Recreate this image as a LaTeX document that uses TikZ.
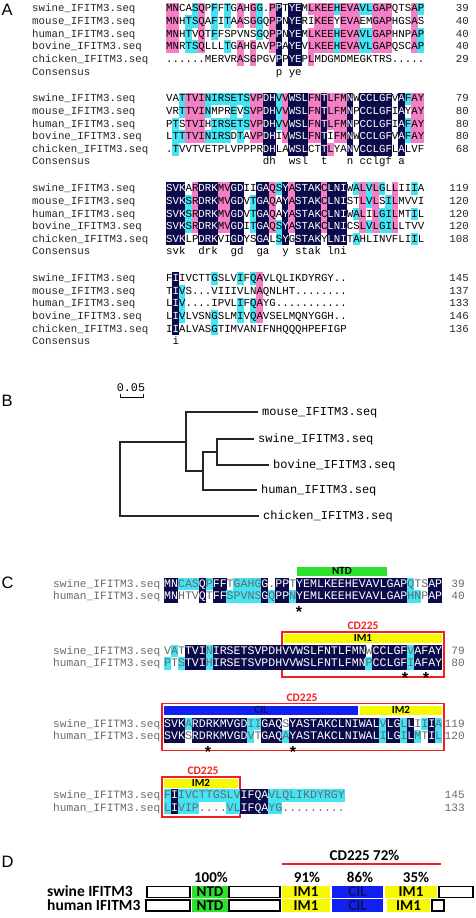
\documentclass[tikz,border=0pt]{standalone}
\usepackage{fontspec}
\setmainfont{Liberation Sans}
\newfontfamily\monof{Liberation Mono}
\newfontfamily\calib{Carlito}
\definecolor{alnnavy}{HTML}{0B0B4B}
\definecolor{alnpink}{HTML}{F47FC4}
\definecolor{alncyan}{HTML}{44E4F4}
\definecolor{cgrey}{HTML}{6A6A6A}
\definecolor{ntdgreen}{HTML}{2EE02E}
\definecolor{imyellow}{HTML}{F8F800}
\definecolor{cilblue}{HTML}{1020F0}
\definecolor{cdred}{HTML}{F02020}
\definecolor{cilnavy}{HTML}{101060}

\def\cx{166}\def\cw{6.45}\def\ctop{9.4}\def\cbot{3.2}\def\alnp{12.6}
\newcommand\cellbox[3]{\fill[#1] ({\cx+(#2-1)*\cw-0.1},{#3-\ctop}) rectangle ({\cx+(#2)*\cw+0.1},{#3+\cbot});}
\newcommand\seqtext[2]{\node[seqA] at (\cx,{#1}) {#2};}
\newcommand\pairtext[2]{\node[seqC] at (\cx,{#1}) {#2};}

\ExplSyntaxOn
\tl_new:N \l__aln_ra_tl
\tl_new:N \l__aln_rb_tl
\tl_new:N \l__aln_rc_tl
\tl_new:N \l__aln_rd_tl
\tl_new:N \l__aln_re_tl
\tl_new:N \l__aln_ca_tl
\tl_new:N \l__aln_cb_tl
\tl_new:N \l__aln_cc_tl
\tl_new:N \l__aln_cd_tl
\tl_new:N \l__aln_ce_tl
\tl_new:N \l__aln_ta_tl
\tl_new:N \l__aln_tb_tl
\tl_new:N \l__aln_tc_tl
\tl_new:N \l__aln_td_tl
\tl_new:N \l__aln_te_tl
\tl_new:N \l__aln_cons_tl
\int_new:N \l__aln_n_int
\cs_new_protected:Npn \__aln_cell:nNNn #1#2#3#4
  {
    \int_zero:N \l__aln_n_int
    \tl_if_eq:NNT #2 \l__aln_ca_tl { \int_incr:N \l__aln_n_int }
    \tl_if_eq:NNT #2 \l__aln_cb_tl { \int_incr:N \l__aln_n_int }
    \tl_if_eq:NNT #2 \l__aln_cc_tl { \int_incr:N \l__aln_n_int }
    \tl_if_eq:NNT #2 \l__aln_cd_tl { \int_incr:N \l__aln_n_int }
    \tl_if_eq:NNT #2 \l__aln_ce_tl { \int_incr:N \l__aln_n_int }
    \tl_if_eq:NnT #2 { . } { \int_zero:N \l__aln_n_int }
    \int_case:nnF { \l__aln_n_int }
      {
        { 5 } { \cellbox{alnnavy}{#1}{#4} \tl_put_right:Nx #3 { \exp_not:N \textcolor{white}{#2} } }
        { 4 } { \cellbox{alnpink}{#1}{#4} \tl_put_right:Nx #3 { #2 } }
        { 3 } { \cellbox{alncyan}{#1}{#4} \tl_put_right:Nx #3 { #2 } }
      }
      { \tl_put_right:Nx #3 { #2 } }
  }
\NewDocumentCommand \alnblock { m m m m m m }
  {
    \tl_set:Nn \l__aln_ra_tl {#2}
    \tl_set:Nn \l__aln_rb_tl {#3}
    \tl_set:Nn \l__aln_rc_tl {#4}
    \tl_set:Nn \l__aln_rd_tl {#5}
    \tl_set:Nn \l__aln_re_tl {#6}
    \tl_clear:N \l__aln_ta_tl
    \tl_clear:N \l__aln_tb_tl
    \tl_clear:N \l__aln_tc_tl
    \tl_clear:N \l__aln_td_tl
    \tl_clear:N \l__aln_te_tl
    \tl_clear:N \l__aln_cons_tl
    \int_step_inline:nn { \tl_count:N \l__aln_ra_tl }
      {
        \tl_set:Nx \l__aln_ca_tl { \tl_item:Nn \l__aln_ra_tl {##1} }
        \tl_set:Nx \l__aln_cb_tl { \tl_item:Nn \l__aln_rb_tl {##1} }
        \tl_set:Nx \l__aln_cc_tl { \tl_item:Nn \l__aln_rc_tl {##1} }
        \tl_set:Nx \l__aln_cd_tl { \tl_item:Nn \l__aln_rd_tl {##1} }
        \tl_set:Nx \l__aln_ce_tl { \tl_item:Nn \l__aln_re_tl {##1} }
        \__aln_cell:nNNn {##1} \l__aln_ca_tl \l__aln_ta_tl {#1}
        \int_compare:nNnTF { \l__aln_n_int } = { 5 }
          { \tl_put_right:Nx \l__aln_cons_tl { \exp_not:N \lowercase { \l__aln_ca_tl } } }
          { \tl_put_right:Nn \l__aln_cons_tl { \phantom{x} } }
        \__aln_cell:nNNn {##1} \l__aln_cb_tl \l__aln_tb_tl {#1+\alnp}
        \__aln_cell:nNNn {##1} \l__aln_cc_tl \l__aln_tc_tl {#1+2*\alnp}
        \__aln_cell:nNNn {##1} \l__aln_cd_tl \l__aln_td_tl {#1+3*\alnp}
        \__aln_cell:nNNn {##1} \l__aln_ce_tl \l__aln_te_tl {#1+4*\alnp}
      }
    \seqtext{#1}{\l__aln_ta_tl}
    \seqtext{#1+\alnp}{\l__aln_tb_tl}
    \seqtext{#1+2*\alnp}{\l__aln_tc_tl}
    \seqtext{#1+3*\alnp}{\l__aln_td_tl}
    \seqtext{#1+4*\alnp}{\l__aln_te_tl}
    \seqtext{#1+5*\alnp}{\l__aln_cons_tl}
  }
\NewDocumentCommand \pairrow { m m m }
  {
    \tl_set:Nn \l__aln_ra_tl {#2}
    \tl_set:Nn \l__aln_rb_tl {#3}
    \tl_clear:N \l__aln_ta_tl
    \int_step_inline:nn { \tl_count:N \l__aln_ra_tl }
      {
        \tl_set:Nx \l__aln_ca_tl { \tl_item:Nn \l__aln_ra_tl {##1} }
        \tl_set:Nx \l__aln_cb_tl { \tl_item:Nn \l__aln_rb_tl {##1} }
        \tl_if_eq:NnTF \l__aln_cb_tl { n }
          {
            \cellbox{alnnavy}{##1}{#1}
            \tl_put_right:Nx \l__aln_ta_tl { \exp_not:N \textcolor{white}{\l__aln_ca_tl} }
          }
          {
            \tl_if_eq:NnT \l__aln_cb_tl { c } { \cellbox{alncyan}{##1}{#1} }
            \tl_put_right:Nx \l__aln_ta_tl { \l__aln_ca_tl }
          }
      }
    \pairtext{#1}{\l__aln_ta_tl}
  }
\ExplSyntaxOff

\newcommand\alnrow[3]{\node[labA] at (32,{#1}) {#2}; \node[numA] at (469,{#1}) {#3};}
\newcommand\pairlab[3]{\node[labC] at (53,{#1}) {#2}; \node[numC] at (465,{#1}) {#3};}
\newcommand\dseg[5]{\node[#1, minimum width={#3-#2}] at ({(#2+#3)/2},#4) {#5};}

\begin{document}
\begin{tikzpicture}[x=1pt,y=-1pt,
  seqA/.style={anchor=base west, inner sep=0pt, font=\monof\fontsize{10.75}{12}\selectfont, text=black},
  labA/.style={anchor=base west, inner sep=0pt, font=\monof\fontsize{10.75}{12}\selectfont, text=black!85},
  numA/.style={anchor=base east, inner sep=0pt, font=\monof\fontsize{10.75}{12}\selectfont, text=black!85},
  seqC/.style={anchor=base west, inner sep=0pt, font=\monof\fontsize{11.58}{13}\selectfont, text=cgrey},
  labC/.style={anchor=base west, inner sep=0pt, font=\monof\fontsize{11.16}{13}\selectfont, text=cgrey},
  numC/.style={anchor=base east, inner sep=0pt, font=\monof\fontsize{11.16}{13}\selectfont, text=cgrey},
  panlab/.style={anchor=base west, inner sep=0pt, font=\fontsize{16.5}{16.5}\selectfont},
  treelab/.style={anchor=west, inner xsep=4pt, inner ysep=0pt, font=\monof\fontsize{12}{12}\selectfont, text height=7pt, text depth=1pt},
  tree/.style={line width=1.1pt, black!85},
  cbar/.style={inner sep=0pt, minimum height=9pt, text height=6.5pt, text depth=0pt, font=\calib\bfseries\fontsize{11}{11}\selectfont},
  cdlab/.style={inner sep=0pt, text=cdred, font=\calib\bfseries\fontsize{11.5}{11.5}\selectfont},
  redbox/.style={draw=cdred, line width=1.5pt, inner sep=0pt},
  ast/.style={anchor=base, inner sep=0pt, font=\bfseries\fontsize{16}{16}\selectfont},
  dwhite/.style={draw=black, line width=1.2pt, fill=white, minimum height=11pt, inner sep=0pt},
  dcol/.style={minimum height=12.5pt, inner sep=0pt, text height=9.5pt, text depth=0pt, font=\calib\bfseries\fontsize{15}{15}\selectfont},
  dtxt/.style={inner sep=0pt, font=\calib\bfseries\fontsize{15}{15}\selectfont},
  drow/.style={anchor=base west, inner sep=0pt, font=\calib\bfseries\fontsize{15.5}{15.5}\selectfont}
]
\useasboundingbox (0,0) rectangle (475,918);

%%%%%%%%%% Panel A
\node[panlab] (labelA) at (1.5,15.5) {A};
\alnblock{12}{MNCASQPFFTGAHGG.PPTYEMLKEEHEVAVLGAPQTSAP}{MNHTSQAFITAASGGQPPNYERIKEEYEVAEMGAPHGSAS}{MNHTVQTFFSPVNSGQPPNYEMLKEEHEVAVLGAPHNPAP}{MNRTSQLLLTGAHGAVPPAYEVLKEEHEVAVLGAPQSCAP}{......MERVRASGPGVPPYEPLMDGMDMEGKTRS.....}
\alnrow{12}{swine\_IFITM3.seq}{39}
\alnrow{24.6}{mouse\_IFITM3.seq}{40}
\alnrow{37.2}{human\_IFITM3.seq}{40}
\alnrow{49.8}{bovine\_IFITM3.seq}{40}
\alnrow{62.4}{chicken\_IFITM3.seq}{29}
\node[labA] at (32,75) {Consensus};

\alnblock{101.9}{VATTVINIRSETSVPDHVVWSLFNTLFMNWCCLGFVAFAY}{VRTTVINMPREVSVPDHVVWSLFNTLFMNPCCLGFIAYAY}{PTSTVIHIRSETSVPDHVVWSLFNTLFMNPCCLGFIAFAY}{LTTTVINIRSDTAVPDHIVWSLFNTIFMNWCCLGFVAFAY}{.TVVTVETPLVPPPRDHLAWSLCTTLYANVCCLGFLALVF}
\alnrow{101.9}{swine\_IFITM3.seq}{79}
\alnrow{114.5}{mouse\_IFITM3.seq}{80}
\alnrow{127.1}{human\_IFITM3.seq}{80}
\alnrow{139.7}{bovine\_IFITM3.seq}{80}
\alnrow{152.3}{chicken\_IFITM3.seq}{68}
\node[labA] at (32,164.9) {Consensus};

\alnblock{191.8}{SVKARDRKMVGDIIGAQSYASTAKCLNIWALVLGLLIIIA}{SVKSRDRKMVGDVTGAQAYASTAKCLNISTLVLSILMVVI}{SVKSRDRKMVGDVTGAQAYASTAKCLNIWALILGILMTIL}{SVKSRDRKMVGDITGAQSYASTAKCLNICSLVLGILLTVV}{SVKLPDRKVIGDYSGALSYGSTAKYLNITAHLINVFLIIL}
\alnrow{191.8}{swine\_IFITM3.seq}{119}
\alnrow{204.4}{mouse\_IFITM3.seq}{120}
\alnrow{217}{human\_IFITM3.seq}{120}
\alnrow{229.6}{bovine\_IFITM3.seq}{120}
\alnrow{242.2}{chicken\_IFITM3.seq}{108}
\node[labA] at (32,254.8) {Consensus};

\alnblock{281.7}{FIIVCTTGSLVIFQAVLQLIKDYRGY..}{TIVS...VIIIVLNAQNLHT........}{LIV....IPVLIFQAYG...........}{LIVLVSNGSLMIVQAVSELMQNYGGH..}{IIALVASGTIMVANIFNHQQQHPEFIGP}
\alnrow{281.7}{swine\_IFITM3.seq}{145}
\alnrow{294.3}{mouse\_IFITM3.seq}{137}
\alnrow{306.9}{human\_IFITM3.seq}{133}
\alnrow{319.5}{bovine\_IFITM3.seq}{146}
\alnrow{332.1}{chicken\_IFITM3.seq}{136}
\node[labA] at (32,344.7) {Consensus};

%%%%%%%%%% Panel B
\node[panlab] (labelB) at (1.5,406) {B};
\node[inner sep=0pt, font=\monof\fontsize{11.7}{12}\selectfont] (scaletxt) at (131,388) {0.05};
\coordinate (sbl) at (120,394);
\coordinate (sbr) at (143,394);
\draw[line width=0.9pt] (sbl) -- ++(0,3) -| (sbr);
\node[treelab] (mouse) at (258,412) {mouse\_IFITM3.seq};
\node[treelab] (swine) at (254,439) {swine\_IFITM3.seq};
\node[treelab] (bovine) at (269,465) {bovine\_IFITM3.seq};
\node[treelab] (human) at (257,490) {human\_IFITM3.seq};
\node[treelab] (chicken) at (259,516) {chicken\_IFITM3.seq};
\coordinate (nr) at (120,479);
\coordinate (nX) at (186,442);
\coordinate (nY) at (203,471);
\coordinate (nSB) at (217,452);
\draw[tree] (nX) -| (nr) |- (chicken.west);
\draw[tree] (mouse.west) -| (nX) |- (nY);
\draw[tree] (nSB) -| (nY) |- (human.west);
\draw[tree] (swine.west) -| (nSB) |- (bovine.west);

%%%%%%%%%% Panel C
\node[panlab] (labelC) at (1.5,588) {C};
\def\cx{164}\def\cw{6.95}\def\ctop{9.5}\def\cbot{3.0}
\node[cbar, fill=ntdgreen, minimum width=90pt] (ntd) at (342,571.5) {NTD};
\pairrow{587}{MNCASQPFFTGAHGG.PPTYEMLKEEHEVAVLGAPQTSAP}{nncccncnnwccccnwnnwnnnnnnnnnnnnnnnncwwnn}
\pairrow{599.5}{MNHTVQTFFSPVNSGQPPNYEMLKEEHEVAVLGAPHNPAP}{nnwwwnwnncccccncnncnnnnnnnnnnnnnnnnccwnn}
\pairlab{587}{swine\_IFITM3.seq}{39}
\pairlab{599.5}{human\_IFITM3.seq}{40}
\node[ast] (a1) at (299,617) {*};

\node[redbox, minimum width=162pt, minimum height=45pt] (cdbox1) at (363,654.5) {};
\node[cdlab] (cdlab1) at (363,626) {CD225};
\node[cbar, fill=imyellow, minimum width=158pt] (im1c) at (363,638.5) {IM1};
\pairrow{654}{VATTVINIRSETSVPDHVVWSLFNTLFMNWCCLGFVAFAY}{wcwnnncnnnnnnnnnnnnnnnnnnnnnnwnnnnncnnnn}
\pairrow{666.5}{PTSTVIHIRSETSVPDHVVWSLFNTLFMNPCCLGFIAFAY}{cwcnnncnnnnnnnnnnnnnnnnnnnnnncnnnnncnnnn}
\pairlab{654}{swine\_IFITM3.seq}{79}
\pairlab{666.5}{human\_IFITM3.seq}{80}
\node[ast] (a2) at (405,683) {*};
\node[ast] (a3) at (426,683) {*};

\node[redbox, minimum width=282pt, minimum height=47pt] (cdbox2) at (303,727) {};
\node[cdlab] (cdlab2) at (302,698) {CD225};
\node[cbar, fill=cilblue, text=cilnavy, minimum width=194pt] (cil) at (261,710) {CIL};
\node[cbar, fill=imyellow, minimum width=82pt] (im2c) at (401,710) {IM2};
\pairrow{727}{SVKARDRKMVGDIIGAQSYASTAKCLNIWALVLGLLIIIA}{nnncnnnnnnnnccnnnwnnnnnnnnnnnnncnncnwcnc}
\pairrow{739.5}{SVKSRDRKMVGDVTGAQAYASTAKCLNIWALILGILMTIL}{nnnwnnnnnnnncwnnncnnnnnnnnnnnnncnncncwnc}
\pairlab{727}{swine\_IFITM3.seq}{119}
\pairlab{739.5}{human\_IFITM3.seq}{120}
\node[ast] (a4) at (208,757) {*};
\node[ast] (a5) at (293,757) {*};

\node[redbox, minimum width=78pt, minimum height=40pt] (cdbox3) at (201,797) {};
\node[cdlab] (cdlab3) at (203,771) {CD225};
\node[cbar, fill=imyellow, minimum width=74pt] (im2d) at (201,783.5) {IM2};
\pairrow{798.5}{FIIVCTTGSLVIFQAVLQLIKDYRGY}{cncccccccccnnnnccccccccccc}
\pairrow{811}{LIVIP....VLIFQAYG.........}{cncccwwwwccnnnnccwwwwwwwww}
\pairlab{798.5}{swine\_IFITM3.seq}{145}
\pairlab{811}{human\_IFITM3.seq}{133}

%%%%%%%%%% Panel D
\node[panlab] (labelD) at (1.5,867) {D};
\node[dtxt, anchor=base] (cd225d) at (364.5,860) {CD225 72\%};
\coordinate (rl) at (282,864);
\coordinate (rr) at (441,864);
\draw[cdred, line width=1.8pt] (rl) -- (rr);
\node[dtxt, anchor=base] (p1) at (211,882) {100\%};
\node[dtxt, anchor=base] (p2) at (307,882) {91\%};
\node[dtxt, anchor=base] (p3) at (360,882) {86\%};
\node[dtxt, anchor=base] (p4) at (416,882) {35\%};
\node[drow] (sw) at (47,896.8) {swine IFITM3};
\node[drow] (hu) at (47,910.8) {human IFITM3};
\dseg{dwhite}{147}{190}{892}{}
\dseg{dcol,fill=ntdgreen}{192}{228}{892}{NTD}
\dseg{dwhite}{229}{280}{892}{}
\dseg{dcol,fill=imyellow}{282}{330}{892}{IM1}
\dseg{dcol,fill=cilblue,text=cilnavy}{332}{383}{892}{CIL}
\dseg{dcol,fill=imyellow}{385}{437}{892}{IM1}
\dseg{dwhite}{439}{473}{892}{}
\dseg{dwhite}{146}{190}{905.5}{}
\dseg{dcol,fill=ntdgreen}{192}{228}{905.5}{NTD}
\dseg{dwhite}{229}{280}{905.5}{}
\dseg{dcol,fill=imyellow}{282}{330}{905.5}{IM1}
\dseg{dcol,fill=cilblue,text=cilnavy}{332}{383}{905.5}{CIL}
\dseg{dcol,fill=imyellow}{387}{430}{905.5}{IM1}
\dseg{dwhite}{432}{444}{905.5}{}
\end{tikzpicture}
\end{document}
